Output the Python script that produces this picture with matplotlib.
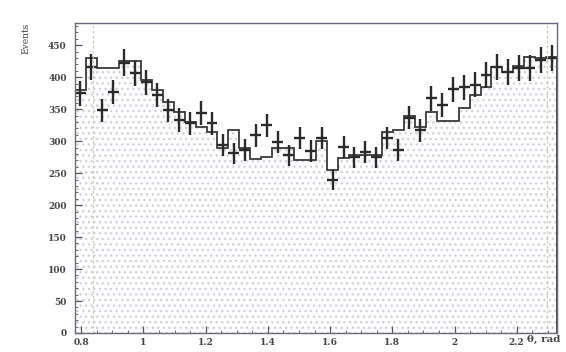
import numpy as np
import matplotlib
matplotlib.use("Agg")
import matplotlib.pyplot as plt
from matplotlib.ticker import MultipleLocator

# limites do histograma (rad) e numero de bins
theta_min = 0.78
theta_max = 2.33
n_bins = 44

# eventos experimentais (pontos com erro)
dados = [375, 416, 348, 377, 423, 406, 392, 372, 348, 333,
         328, 344, 328, 294, 281, 286, 309, 325, 298, 278,
         305, 285, 305, 239, 291, 275, 283, 275, 305, 286,
         337, 317, 367, 356, 381, 384, 388, 403, 416, 408,
         414, 414, 427, 430]

# simulacao (histograma em degraus)
simulacao = [380, 430, 415, 415, 425, 425, 395, 380, 362, 345,
             330, 322, 315, 290, 318, 290, 272, 275, 290, 290,
             270, 270, 300, 255, 273, 278, 278, 278, 314, 318,
             340, 322, 345, 332, 332, 352, 372, 385, 416, 408,
             418, 432, 430, 432]

# cortes (linhas pontilhadas)
cortes = [0.838, 2.298]

x_ticks = [0.8, 1.0, 1.2, 1.4, 1.6, 1.8, 2.0, 2.2]
x_labels = ["0.8", "1", "1.2", "1.4", "1.6", "1.8", "2", "2.2"]
y_ticks = [0, 50, 100, 150, 200, 250, 300, 350, 400, 450]

bordas = np.linspace(theta_min, theta_max, n_bins + 1)
centros = 0.5 * (bordas[:-1] + bordas[1:])
meia_largura = 0.5 * (bordas[1] - bordas[0])
dados = np.array(dados, dtype=float)
simulacao = np.array(simulacao, dtype=float)

plt.rcParams["font.family"] = ["DejaVu Serif"]
plt.rcParams["hatch.linewidth"] = 1.0

fig = plt.figure(figsize=(5.66, 3.52), dpi=100)
ax = fig.add_axes([0.1325, 0.054, 0.852, 0.881])

# preenchimento pontilhado sob o histograma (bem claro, como no scan)
ax.stairs(simulacao, bordas, fill=True, facecolor="white",
          edgecolor="#d2d2dc", hatch="...", linewidth=0)
ax.stairs(simulacao, bordas, color="#3a3a3a", linewidth=1.3)

ax.errorbar(centros, dados, yerr=np.sqrt(dados), xerr=meia_largura,
            fmt="none", ecolor="#2a2a2a", elinewidth=1.7, capsize=0)

for c in cortes:
    ax.axvline(c, color="#b8d8a8", linestyle=(0, (2, 2)), linewidth=0.9)

ax.set_xlim(theta_min, theta_max)
ax.set_ylim(0, 485)

ax.set_xticks(x_ticks)
ax.set_xticklabels(x_labels)
ax.set_yticks(y_ticks)
ax.xaxis.set_minor_locator(MultipleLocator(0.05))
ax.yaxis.set_minor_locator(MultipleLocator(10))
ax.tick_params(which="both", direction="in", top=False, right=False,
               colors="#555555", labelcolor="#444444", labelsize=6.5)
ax.tick_params(which="major", length=5, width=0.9)
ax.tick_params(which="minor", length=2.5, width=0.6)
ax.tick_params(axis="y", pad=6)
for lab in ax.get_xticklabels() + ax.get_yticklabels():
    lab.set_fontweight("bold")

for lado in ax.spines.values():
    lado.set_color("#6a6a7a")
    lado.set_linewidth(1.0)

fig.text(0.045, 0.935, "Events", rotation=90, ha="center", va="top",
         fontsize=6.5, color="#444444")
fig.text(0.99, 0.035, "θ, rad", ha="right", va="center",
         fontsize=7.5, color="#444444", fontweight="bold")

fig.savefig("out.png", dpi=100)
